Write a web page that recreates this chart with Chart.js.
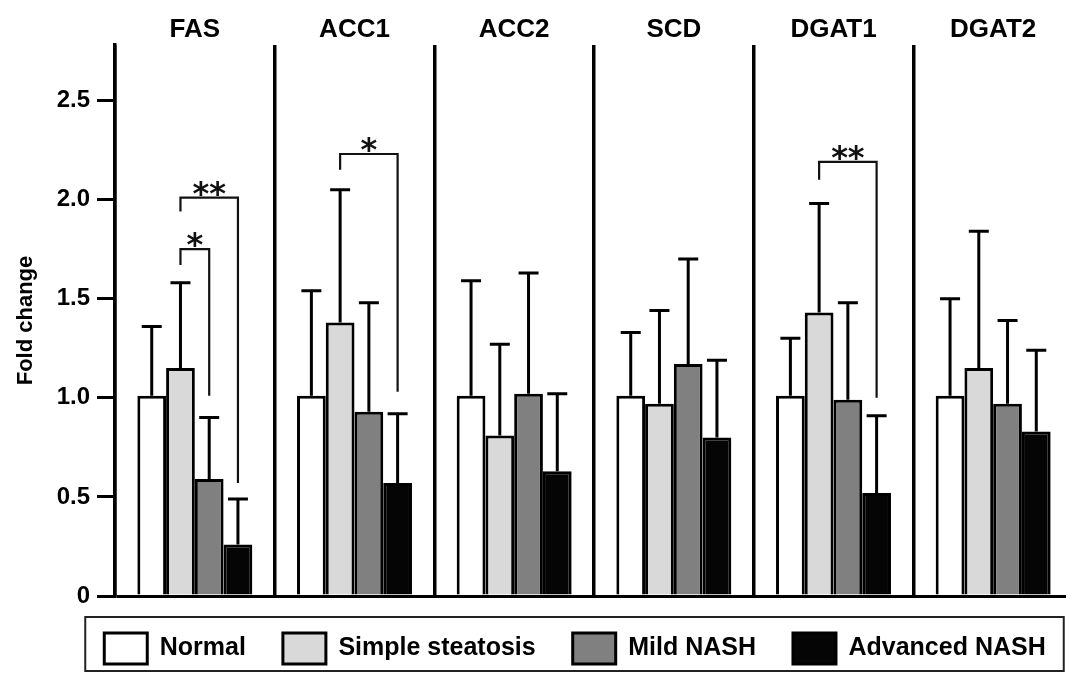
<!DOCTYPE html>
<html>
<head>
<meta charset="utf-8">
<title>Fold change</title>
<script src="https://cdn.jsdelivr.net/npm/chart.js@4.4.1/dist/chart.umd.min.js"></script>
<style>
html, body { margin: 0; padding: 0; background: #fff; overflow: hidden; }
canvas { display: block; }
</style>
</head>
<body>
<canvas id="foldChange" width="1150" height="674"></canvas>
<script>
/* values */
var genes = ['FAS', 'ACC1', 'ACC2', 'SCD', 'DGAT1', 'DGAT2'];
var groups = ['Normal', 'Simple steatosis', 'Mild NASH', 'Advanced NASH'];
var yTicks = [0, 0.5, 1.0, 1.5, 2.0, 2.5];

var normal       = [1.01, 1.01, 1.01, 1.01, 1.01, 1.01];
var normalErr    = [1.36, 1.54, 1.59, 1.33, 1.30, 1.50];
var steatosis    = [1.15, 1.38, 0.81, 0.97, 1.43, 1.15];
var steatosisErr = [1.58, 2.05, 1.27, 1.44, 1.98, 1.84];
var mild         = [0.59, 0.93, 1.02, 1.17, 0.99, 0.97];
var mildErr      = [0.90, 1.48, 1.63, 1.70, 1.48, 1.39];
var advanced     = [0.26, 0.57, 0.63, 0.80, 0.52, 0.83];
var advancedErr  = [0.49, 0.92, 1.02, 1.19, 0.91, 1.24];

/* significance brackets: gene index, from/to dataset, bracket height and leg ends */
var brackets = [
    { gene: 0, from: 1, to: 2, level: 1.75, leftEnd: 1.67, rightEnd: 1.01, mark: '*' },
    { gene: 0, from: 1, to: 3, level: 2.01, leftEnd: 1.94, rightEnd: 0.57, mark: '**' },
    { gene: 1, from: 1, to: 3, level: 2.23, leftEnd: 2.15, rightEnd: 1.03, mark: '*' },
    { gene: 4, from: 1, to: 3, level: 2.19, leftEnd: 2.10, rightEnd: 1.00, mark: '**' }
];

var FONT = "'Liberation Sans', Arial, sans-serif";

/* upper whiskers only */
var errorBars = {
    id: 'errorBars',
    afterDatasetsDraw: function (chart) {
        var ctx = chart.ctx, y = chart.scales.y;
        ctx.save();
        ctx.strokeStyle = '#000';
        ctx.lineWidth = 3;
        chart.data.datasets.forEach(function (ds, i) {
            chart.getDatasetMeta(i).data.forEach(function (bar, j) {
                var top = y.getPixelForValue(ds.errTop[j]);
                ctx.beginPath();
                ctx.moveTo(bar.x, bar.y);
                ctx.lineTo(bar.x, top);
                ctx.moveTo(bar.x - 10, top);
                ctx.lineTo(bar.x + 10, top);
                ctx.stroke();
            });
        });
        ctx.restore();
    }
};

var sigBrackets = {
    id: 'sigBrackets',
    afterDatasetsDraw: function (chart) {
        var ctx = chart.ctx, y = chart.scales.y;
        ctx.save();
        ctx.strokeStyle = '#111';
        ctx.fillStyle = '#111';
        ctx.lineWidth = 2.2;
        ctx.font = "bold 32px 'DejaVu Sans', sans-serif";
        ctx.textAlign = 'center';
        ctx.textBaseline = 'alphabetic';
        brackets.forEach(function (b) {
            var x1 = chart.getDatasetMeta(b.from).data[b.gene].x;
            var x2 = chart.getDatasetMeta(b.to).data[b.gene].x;
            var yl = y.getPixelForValue(b.level);
            ctx.beginPath();
            ctx.moveTo(x1, y.getPixelForValue(b.leftEnd));
            ctx.lineTo(x1, yl);
            ctx.lineTo(x2, yl);
            ctx.lineTo(x2, y.getPixelForValue(b.rightEnd));
            ctx.stroke();
            ctx.fillText(b.mark, (x1 + x2) / 2, yl + 6);
        });
        ctx.restore();
    }
};

/* frame round the legend */
var legendFrame = {
    id: 'legendFrame',
    afterDraw: function (chart) {
        var hb = chart.legend.legendHitBoxes;
        if (!hb || !hb.length) return;
        var last = hb[hb.length - 1];
        var left = hb[0].left - 19, right = last.left + last.width + 18;
        var top = hb[0].top - 16, bottom = hb[0].top + 38;
        var ctx = chart.ctx;
        ctx.save();
        ctx.strokeStyle = '#222';
        ctx.lineWidth = 2;
        ctx.strokeRect(left, top, right - left, bottom - top);
        ctx.restore();
    }
};

function series(i, values, errs, fill) {
    return {
        label: groups[i],
        data: values,
        errTop: errs,
        backgroundColor: fill,
        borderColor: '#000',
        borderWidth: 3,
        borderSkipped: 'start',
        barPercentage: 1.0,
        categoryPercentage: 0.72
    };
}

var ctx = document.getElementById('foldChange');
var myChart = new Chart(ctx, {
    type: 'bar',
    data: {
        labels: genes,
        datasets: [
            series(0, normal, normalErr, '#ffffff'),
            series(1, steatosis, steatosisErr, '#d9d9d9'),
            series(2, mild, mildErr, '#808080'),
            series(3, advanced, advancedErr, '#050505')
        ]
    },
    options: {
        responsive: false,
        animation: false,
        layout: { padding: 0 },
        plugins: {
            legend: {
                position: 'bottom',
                labels: {
                    color: '#000',
                    boxWidth: 43,
                    boxHeight: 31,
                    padding: 37,
                    font: { family: FONT, size: 25, weight: 'bold' }
                }
            },
            tooltip: { enabled: false }
        },
        scales: {
            x: {
                position: 'top',
                offset: true,
                afterFit: function (s) { s.height = 45; },
                grid: { offset: true, color: '#000', lineWidth: 3.5, drawTicks: false },
                border: { display: false },
                ticks: {
                    color: '#000',
                    padding: 0,
                    font: { family: FONT, size: 26, weight: 'bold' }
                }
            },
            y: {
                min: 0,
                max: 2.78,
                afterFit: function (s) { s.width = 115; },
                afterBuildTicks: function (s) {
                    s.ticks = yTicks.map(function (v) { return { value: v }; });
                },
                grid: {
                    color: function (c) { return c.tick && c.tick.value === 0 ? '#000' : 'rgba(0,0,0,0)'; },
                    tickColor: '#000',
                    lineWidth: 3,
                    tickLength: 18
                },
                border: { display: true, color: '#000', width: 3.5 },
                ticks: {
                    color: '#000',
                    padding: 7,
                    font: { family: FONT, size: 24, weight: 'bold' },
                    callback: function (v) { return v === 0 ? '0' : v.toFixed(1); }
                },
                title: {
                    display: true,
                    text: 'Fold change',
                    color: '#000',
                    padding: { top: 13, bottom: 0 },
                    font: { family: FONT, size: 22, weight: 'bold' }
                }
            },
            y2: {
                position: 'right',
                display: true,
                afterFit: function (s) { s.width = 1150 - 1073; },
                grid: { display: false },
                border: { display: false },
                ticks: { display: false }
            }
        }
    },
    plugins: [errorBars, sigBrackets, legendFrame]
});
</script>
</body>
</html>
